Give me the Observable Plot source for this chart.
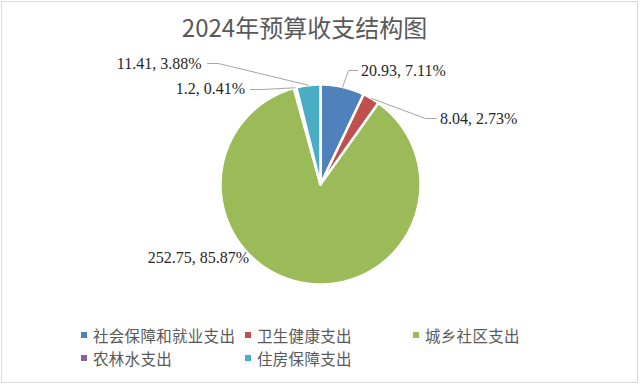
<!DOCTYPE html>
<html>
<head>
<meta charset="utf-8">
<script src="https://cdn.jsdelivr.net/npm/d3@7"></script>
<script src="https://cdn.jsdelivr.net/npm/@observablehq/plot@0.6"></script>
<style>
  html, body { margin: 0; padding: 0; background: #fff; }
  #wrap { position: relative; width: 640px; height: 385px; overflow: hidden; background: #fff; }
  #frame { position: absolute; left: 1px; top: 1px; width: 637px; height: 382px; border: 1px solid #d9d9d9; box-sizing: border-box; }
  #title { position: absolute; left: 0; width: 609px; top: 13px; text-align: center; font-family: "Noto Sans CJK SC", sans-serif; font-size: 24px; line-height: 28px; color: #595959; white-space: nowrap; }
  #chart { position: absolute; left: 0; top: 44px; }
  .leg { position: absolute; font-family: "Noto Sans CJK SC", sans-serif; font-size: 15.5px; line-height: 18px; color: #595959; white-space: nowrap; letter-spacing: 0.3px; }
  .leg i { position: absolute; width: 6px; height: 6px; top: 6px; }
  .leg span { position: absolute; white-space: nowrap; }
</style>
</head>
<body>
<div id="wrap">
  <div id="frame"></div>
  <div id="title"></div>
  <div id="chart"></div>
  <div id="legend"></div>
</div>
<script>
// ---- data ----
const title = "2024年预算收支结构图";
const categories = ["社会保障和就业支出", "卫生健康支出", "城乡社区支出", "农林水支出", "住房保障支出"];
const values = [20.93, 8.04, 252.75, 1.2, 11.41];
const colors = ["#4F81BD", "#C0504D", "#9BBB59", "#8064A2", "#4BACC6"];

// ---- layout (label placement, in pie-radius units) ----
const labelLayout = [
  {anchor: "start", tx: 0.405, ty: 1.14, leader: [[0.28, 1.14], [0.37, 1.14]]},
  {anchor: "start", tx: 1.195, ty: 0.66, leader: [[1.05, 0.66], [1.16, 0.66]]},
  {anchor: "end", tx: -0.715, ty: -0.73, leader: null},
  {anchor: "end", tx: -0.755, ty: 0.96, leader: [[-0.58, 0.95], [-0.70, 0.95]]},
  {anchor: "end", tx: -1.19, ty: 1.21, leader: [[-1.02, 1.21], [-1.13, 1.21]]}
];
const legendLayout = [
  {x: 81, y: 326}, {x: 245, y: 326}, {x: 413, y: 326},
  {x: 81, y: 349}, {x: 245, y: 349}
];

document.getElementById("title").textContent = title;

const total = d3.sum(values);
const arcs = d3.pie().sort(null).value(d => d)(values);

// slice polygons
const slicePts = [];
arcs.forEach((a, i) => {
  slicePts.push({cat: categories[i], x: 0, y: 0, order: 0});
  const n = Math.max(2, Math.ceil((a.endAngle - a.startAngle) / (Math.PI / 360)));
  for (let k = 0; k <= n; k++) {
    const t = a.startAngle + (a.endAngle - a.startAngle) * k / n;
    slicePts.push({cat: categories[i], x: Math.sin(t), y: Math.cos(t), order: k + 1});
  }
});

// labels and leaders
const labels = arcs.map((a, i) => ({
  text: `${values[i]}, ${(values[i] / total * 100).toFixed(2)}%`,
  x: labelLayout[i].tx, y: labelLayout[i].ty, anchor: labelLayout[i].anchor
}));
const leaders = [];
arcs.forEach((a, i) => {
  const L = labelLayout[i].leader;
  if (!L) return;
  const m = (a.startAngle + a.endAngle) / 2;
  leaders.push({id: i, x: Math.sin(m), y: Math.cos(m)});
  L.forEach(p => leaders.push({id: i, x: p[0], y: p[1]}));
});

const chart = Plot.plot({
  width: 640,
  height: 270,
  margin: 0,
  x: {domain: [-3.2, 3.2], axis: null},
  y: {domain: [-1.30, 1.40], axis: null},
  color: {domain: categories, range: colors},
  marks: [
    Plot.line(slicePts, {x: "x", y: "y", z: "cat", fill: "cat", stroke: "#fff", strokeWidth: 2.5, curve: "linear-closed"}),
    Plot.line(leaders, {x: "x", y: "y", z: "id", stroke: "#a6a6a6", strokeWidth: 1}),
    Plot.text(labels.filter(d => d.anchor === "start"), {x: "x", y: "y", text: "text", textAnchor: "start", fill: "#262626", fontSize: 16, fontFamily: "Liberation Serif, serif"}),
    Plot.text(labels.filter(d => d.anchor === "end"), {x: "x", y: "y", text: "text", textAnchor: "end", fill: "#262626", fontSize: 16, fontFamily: "Liberation Serif, serif"})
  ]
});
document.getElementById("chart").appendChild(chart);

// legend
const legend = document.getElementById("legend");
categories.forEach((c, i) => {
  const d = document.createElement("div");
  d.className = "leg";
  d.style.left = legendLayout[i].x + "px";
  d.style.top = legendLayout[i].y + "px";
  const sw = document.createElement("i");
  sw.style.background = colors[i];
  sw.style.left = "0px";
  const s = document.createElement("span");
  s.textContent = c;
  s.style.left = "12px";
  d.appendChild(sw); d.appendChild(s);
  legend.appendChild(d);
});
</script>
</body>
</html>
